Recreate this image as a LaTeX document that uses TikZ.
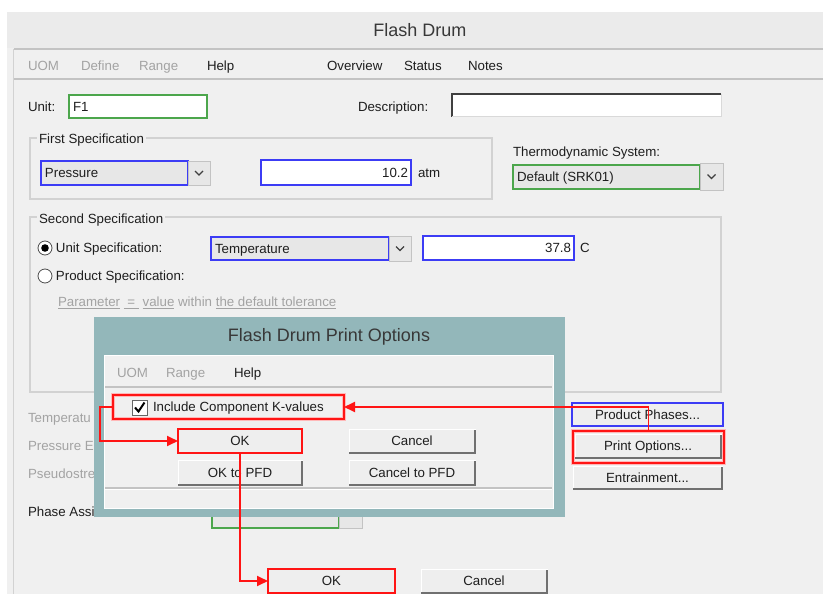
\documentclass[tikz,border=0pt]{standalone}
\usepackage{fontspec}
\setmainfont{Liberation Sans}
\usetikzlibrary{arrows.meta,calc}

\definecolor{winbg}{HTML}{F0F0F0}
\definecolor{titlebg}{HTML}{EBEBEB}
\definecolor{sepline}{HTML}{C3C3C3}
\definecolor{frameline}{HTML}{D2D2D2}
\definecolor{selblue}{HTML}{3C3CF5}
\definecolor{selgreen}{HTML}{4CA64C}
\definecolor{hlred}{HTML}{FF1414}
\definecolor{dlgteal}{HTML}{93B7BA}
\definecolor{greytext}{HTML}{A3A3A3}
\definecolor{btnface}{HTML}{EEEEEE}
\definecolor{btnedge}{HTML}{707070}
\definecolor{combo}{HTML}{E7E7E7}
\definecolor{inktext}{HTML}{1E1E1E}

\newcommand\uifont{\fontsize{13.3}{15}\selectfont}
\newcommand\captionfont{\fontsize{18}{21}\selectfont}
% bevel shadow on the right and bottom edges of a push button
\newcommand\shadebtn[1]{\draw[btnshade] ([yshift=-1pt]#1.north east) -- (#1.south east) -- (#1.south west);}
% small "v" glyph of a drop-down button
\newcommand\vmark[1]{\draw[chevron] ($(#1.center)+(-4,-2)$) -- ($(#1.center)+(0,2)$) -- ($(#1.center)+(4,-2)$);}

\begin{document}
\begin{tikzpicture}[x=1pt,y=-1pt,
  every node/.style={font=\uifont, text=inktext, inner sep=0pt, outer sep=0pt,
                     text height=9.6pt, text depth=0pt},
  caption/.style={font=\captionfont, text=black!78, text height=13pt},
  lbl/.style={anchor=west},
  dim/.style={anchor=west, text=greytext},
  field/.style={draw=#1, line width=1.5pt, fill=white, anchor=north west},
  combobox/.style={draw=#1, line width=1.5pt, fill=combo, anchor=north west},
  dropbtn/.style={draw=sepline, line width=0.8pt, fill=combo, anchor=north west},
  winbtn/.style={fill=btnface, draw=white, line width=1pt, anchor=north west},
  btnshade/.style={draw=btnedge, line width=2pt},
  hlbox/.style={draw=hlred, line width=1.8pt, anchor=north west,
                preaction={draw=hlred!30, line width=3.5pt}},
  redline/.style={draw=hlred, line width=1.8pt, -{Triangle[length=11pt,width=10pt]}},
  group/.style={draw=frameline, line width=1.2pt},
  grouplbl/.style={anchor=west, fill=winbg, inner xsep=2pt},
  chevron/.style={draw=black!75, line width=1.3pt},
  radio/.style={circle, draw=black!70, line width=0.8pt, fill=white, minimum size=14pt}
]

% page and window
\useasboundingbox (0,0) rectangle (823,594);
\fill[white] (0,0) rectangle (823,594);
\fill[winbg] (7,12) rectangle (823,594);
\fill[titlebg] (7,12) rectangle (823,48);
\draw[sepline, line width=2pt] (14,49) -- (823,49);
\draw[sepline, line width=2pt] (14,79) -- (823,79);
\draw[frameline, line width=1pt] (13,49) -- (13,594);

\node[caption] (title) at (420,30) {Flash Drum};

% menu bar
\node[dim] (mUom) at (28,66) {UOM};
\node[dim] (mDefine) at (81,66) {Define};
\node[dim] (mRange) at (139,66) {Range};
\node[lbl] (mHelp) at (207,66) {Help};
\node[lbl] (mOverview) at (327,66) {Overview};
\node[lbl] (mStatus) at (404,66) {Status};
\node[lbl] (mNotes) at (468,66) {Notes};

% unit and description
\node[lbl] (unitlbl) at (28,107) {Unit:};
\node[field=selgreen, minimum width=138, minimum height=23] (unitbox) at (69,95) {};
\node[lbl] (unitval) at ([xshift=4pt]unitbox.west) {F1};
\node[lbl] (desclbl) at (358,107) {Description:};
\node[fill=white, anchor=north west, minimum width=269, minimum height=23] (descbox) at (452,94) {};
\draw[black!75, line width=2pt] (descbox.south west) -- (descbox.north west) -- (descbox.north east);
\draw[white!85!black, line width=1pt] (descbox.north east) -- (descbox.south east) -- (descbox.south west);

% first specification
\draw[group] (30,138) rectangle (492,199);
\node[grouplbl] (firstlbl) at (37,139) {First Specification};
\node[combobox=selblue, minimum width=147, minimum height=24] (presbox) at (41,161) {};
\node[lbl] (prestext) at ([xshift=4pt]presbox.west) {Pressure};
\node[dropbtn, minimum width=22, minimum height=24] (presdrop) at (188,161) {};
\vmark{presdrop}
\node[field=selblue, minimum width=150, minimum height=25] (presval) at (261,160) {};
\node[anchor=east] (presnum) at ([xshift=-3pt]presval.east) {10.2};
\node[lbl] (presunit) at (418,173) {atm};

\node[lbl] (thermolbl) at (513,152) {Thermodynamic System:};
\node[combobox=selgreen, minimum width=187, minimum height=24] (thermobox) at (513,165) {};
\node[lbl] (thermotext) at ([xshift=4pt]thermobox.west) {Default (SRK01)};
\node[dropbtn, minimum width=23, minimum height=27] (thermodrop) at (700,163) {};
\vmark{thermodrop}

% second specification
\draw[group] (30,217) rectangle (721,392);
\node[grouplbl] (secondlbl) at (37,219) {Second Specification};
\node[radio] (radUnit) at (45,248) {};
\fill[black] (radUnit.center) circle (3.8);
\node[lbl] (unitspec) at (56,248) {Unit Specification:};
\node[combobox=selblue, minimum width=178, minimum height=23] (tempbox) at (211,237) {};
\node[lbl] (temptext) at ([xshift=4pt]tempbox.west) {Temperature};
\node[dropbtn, minimum width=22, minimum height=25] (tempdrop) at (389,236) {};
\vmark{tempdrop}
\node[field=selblue, minimum width=151, minimum height=24] (tempval) at (423,236) {};
\node[anchor=east] (tempnum) at ([xshift=-3pt]tempval.east) {37.8};
\node[lbl] (tempunit) at (580,248) {C};
\node[radio] (radProd) at (45,276) {};
\node[lbl] (prodspec) at (56,276) {Product Specification:};
\node[dim] (paramline) at (58,302)
  {\underline{Parameter} \underline{~=~} \underline{value} within \underline{the default tolerance}};

% controls partly hidden behind the print options dialog
\node[dim] (tEst) at (28,418) {Temperatu};
\node[dim] (pEst) at (28,446) {Pressure E};
\node[dim] (pseudo) at (28,474) {Pseudostre};
\node[lbl] (phase) at (28,512) {Phase Assi};
\node[combobox=selgreen, minimum width=127, minimum height=15] (phasebox) at (212,513) {};
\node[dropbtn, minimum width=23, minimum height=15] (phasedrop) at (339,513) {};

% right column buttons
\node[winbtn, minimum width=151, minimum height=23] (prodph) at (572,403) {Product Phases...};
\draw[selblue, line width=1.5pt] (prodph.north west) rectangle (prodph.south east);
\node[winbtn, minimum width=146, minimum height=24] (printopt) at (575,434) {Print Options...};
\shadebtn{printopt}
\node[hlbox, minimum width=151, minimum height=32] (printhl) at (573,431) {};
\node[winbtn, minimum width=149, minimum height=23] (entrain) at (573,466) {Entrainment...};
\shadebtn{entrain}

% bottom buttons
\node[winbtn, minimum width=127, minimum height=24] (okmain) at (268,569) {OK};
\draw[hlred, line width=1.6pt] (okmain.north west) rectangle (okmain.south east);
\node[winbtn, minimum width=126, minimum height=24] (cancelmain) at (421,569) {Cancel};
\shadebtn{cancelmain}

% print options dialog
\fill[dlgteal] (94,317) rectangle (565,517);
\node[caption] (dlgtitle) at (329,335) {Flash Drum Print Options};
\filldraw[fill=winbg, draw=white, line width=1pt] (104,355) rectangle (553,508);
\draw[sepline, line width=1.2pt] (105,387) -- (552,387);
\draw[sepline, line width=1.2pt] (105,488) -- (552,488);
\draw[white, line width=1pt] (105,489.5) -- (552,489.5);
\node[dim] (dUom) at (117,373) {UOM};
\node[dim] (dRange) at (166,373) {Range};
\node[lbl] (dHelp) at (234,373) {Help};

\node[draw=black!60, line width=0.8pt, fill=white, minimum size=15pt, anchor=north west] (chk) at (132,400) {};
\draw[black, line width=2pt] ($(chk.center)+(-4.5,0)$) -- ($(chk.center)+(-1,4)$) -- ($(chk.center)+(5,-5)$);
\node[lbl] (chklbl) at (153,407) {Include Component K-values};
\node[hlbox, minimum width=231, minimum height=24] (inclhl) at (113,395) {};

\node[winbtn, minimum width=124, minimum height=24] (okdlg) at (178,429) {OK};
\draw[hlred, line width=1.6pt] (okdlg.north west) rectangle (okdlg.south east);
\node[winbtn, minimum width=126, minimum height=24] (canceldlg) at (349,429) {Cancel};
\shadebtn{canceldlg}
\node[winbtn, minimum width=124, minimum height=25] (okpfd) at (178,460) {OK to PFD};
\shadebtn{okpfd}
\node[winbtn, minimum width=126, minimum height=25] (cancelpfd) at (349,460) {Cancel to PFD};
\shadebtn{cancelpfd}

% red guide arrows
\draw[redline] (printhl.north) |- (inclhl.east);
\draw[redline] (inclhl.west) -- ++(-13,0) |- (okdlg.west);
\draw[redline] (okdlg.south) |- (okmain.west);
\end{tikzpicture}
\end{document}
